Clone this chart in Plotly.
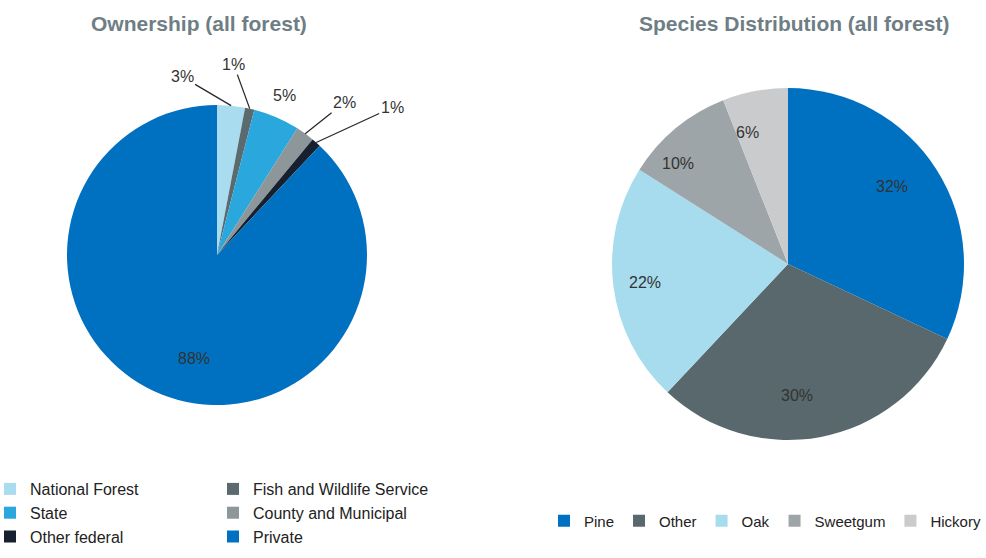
import math
import plotly.graph_objects as go

own_labels = ["National Forest", "Fish and Wildlife Service", "State",
              "County and Municipal", "Other federal", "Private"]
own_values = [3, 1, 5, 2, 1, 88]
own_colors = ["#A9DCEF", "#5B6A6E", "#2AA7DC", "#8D9699", "#17202E", "#0070C0"]

sp_labels = ["Pine", "Other", "Oak", "Sweetgum", "Hickory"]
sp_values = [32, 30, 22, 10, 6]
sp_colors = ["#0070C0", "#58686C", "#A7DCEF", "#9DA5A8", "#C9CBCD"]

W, H = 986, 558
FONT = "Liberation Sans, Arial"
LABEL_COLOR = "#333333"

# pie geometry (pixels): centre and radius
OWN_C, OWN_R = (217, 255), 150
SP_C, SP_R = (788, 264), 176

# label placement style for the ownership pie: pixel offsets of each label from its slice edge
own_label_offsets = [(-49, -29), (-16, -44), (8, -22), (39, -31), (76, -35), None]
own_label_lines = [True, True, False, True, True, False]


def domain(c, r):
    return dict(x=[(c[0] - r) / W, (c[0] + r) / W],
                y=[1 - (c[1] + r) / H, 1 - (c[1] - r) / H])


def slice_point(values, i, c, r, frac):
    total = sum(values)
    mid = (sum(values[:i]) + values[i] / 2) / total * 2 * math.pi
    px = c[0] + frac * r * math.sin(mid)
    py = c[1] - frac * r * math.cos(mid)
    return px / W, 1 - py / H


fig = go.Figure()

fig.add_trace(go.Pie(
    labels=own_labels, values=own_values, sort=False, direction="clockwise",
    marker=dict(colors=own_colors, line=dict(width=0)),
    textinfo="none", domain=domain(OWN_C, OWN_R),
    legend="legend", hoverinfo="label+percent",
))

fig.add_trace(go.Pie(
    labels=sp_labels, values=sp_values, sort=False, direction="clockwise",
    marker=dict(colors=sp_colors, line=dict(width=0)),
    textinfo="none", domain=domain(SP_C, SP_R),
    legend="legend2", hoverinfo="label+percent",
))

lab_font = dict(family=FONT, size=16, color=LABEL_COLOR)

for i, v in enumerate(own_values):
    off = own_label_offsets[i]
    if off is None:
        x, y = slice_point(own_values, i, OWN_C, OWN_R, 0.74)
        fig.add_annotation(text=f"{v}%", x=x, y=y, xref="paper", yref="paper",
                           showarrow=False, font=lab_font)
    else:
        x, y = slice_point(own_values, i, OWN_C, OWN_R, 1.0)
        fig.add_annotation(text=f"{v}%", x=x, y=y, xref="paper", yref="paper",
                           showarrow=True, ax=off[0], ay=off[1], axref="pixel", ayref="pixel",
                           arrowhead=0, arrowwidth=1.3, standoff=0, startstandoff=0,
                           arrowcolor="#2a2a2a" if own_label_lines[i] else "rgba(0,0,0,0)",
                           font=lab_font)

for i, v in enumerate(sp_values):
    x, y = slice_point(sp_values, i, SP_C, SP_R, 0.82)
    fig.add_annotation(text=f"{v}%", x=x, y=y, xref="paper", yref="paper",
                       showarrow=False, font=lab_font)

title_font = dict(family=FONT, size=21, color="#6E7E84")
fig.add_annotation(text="<b>Ownership (all forest)</b>", x=199 / W, y=1 - 24 / H,
                   xref="paper", yref="paper", xanchor="center", yanchor="middle",
                   showarrow=False, font=title_font)
fig.add_annotation(text="<b>Species Distribution (all forest)</b>", x=794 / W, y=1 - 24 / H,
                   xref="paper", yref="paper", xanchor="center", yanchor="middle",
                   showarrow=False, font=title_font)

fig.update_layout(
    width=W, height=H,
    margin=dict(l=0, r=0, t=0, b=0, autoexpand=False),
    paper_bgcolor="white", plot_bgcolor="white",
    legend=dict(orientation="h", x=-10 / W, xanchor="left", y=1 - 513 / H, yanchor="middle",
                entrywidth=178, entrywidthmode="pixels", traceorder="normal",
                font=dict(family=FONT, size=16, color="#222"),
                itemwidth=30, bgcolor="rgba(0,0,0,0)"),
    legend2=dict(orientation="h", x=1.0, xanchor="right", y=1 - 521 / H, yanchor="middle",
                 font=dict(family=FONT, size=15, color="#222"),
                 itemwidth=30, bgcolor="rgba(0,0,0,0)"),
    showlegend=True,
)

fig.write_html("out.html")
